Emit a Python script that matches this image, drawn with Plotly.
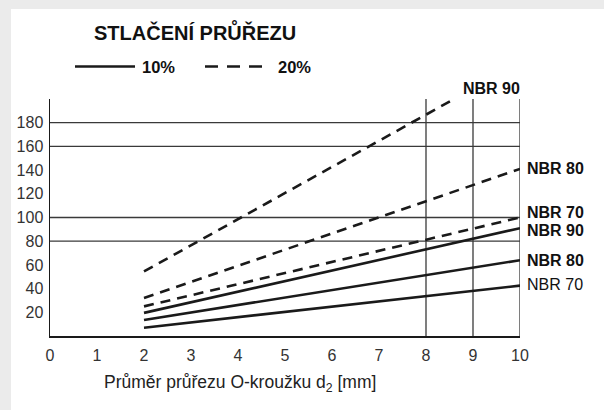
import plotly.graph_objects as go

# Data
x_start_end = [2, 10]
solid_nbr70 = [7, 42.5]
solid_nbr80 = [13.5, 64]
solid_nbr90 = [19.5, 91]
dashed_nbr70 = [25, 100]
dashed_nbr80 = [32, 141]
dashed_nbr90_x = [2, 8.6]
dashed_nbr90 = [54.5, 200]

x_ticks = list(range(0, 11))
y_ticks = [20, 40, 60, 80, 100, 120, 140, 160, 180]
h_grid = [80, 100, 160, 180]
v_grid = [8, 9, 10]

right_labels = ["NBR 70", "<b>NBR 80</b>", "<b>NBR 90</b>", "<b>NBR 70</b>", "<b>NBR 80</b>"]
right_label_y = [43.5, 64, 89, 104, 141]
top_label = "<b>NBR 90</b>"

FONT = "Liberation Sans, Arial, sans-serif"
LINE = "#1a1a1a"
GRID = "#3a3a3a"
DASH = "10px,7px"

# plot area in pixels (for paper-coordinate placement of decorations)
L, R, T, B = 50, 520, 99, 336
PW, PH = R - L, B - T


def px(xpix):
    return (xpix - L) / PW


def py(ypix):
    return (B - ypix) / PH


fig = go.Figure()

for y in [solid_nbr70, solid_nbr80, solid_nbr90]:
    fig.add_trace(go.Scatter(x=x_start_end, y=y, mode="lines",
                             line=dict(color=LINE, width=2.6), showlegend=False,
                             hoverinfo="skip"))
for xs, y in [(x_start_end, dashed_nbr70), (x_start_end, dashed_nbr80), (dashed_nbr90_x, dashed_nbr90)]:
    fig.add_trace(go.Scatter(x=xs, y=y, mode="lines",
                             line=dict(color=LINE, width=2.6, dash=DASH), showlegend=False,
                             hoverinfo="skip"))

shapes = []
# white panel
shapes.append(dict(type="rect", xref="paper", yref="paper",
                   x0=px(11), x1=px(640), y0=py(440), y1=py(9),
                   fillcolor="white", line=dict(width=0), layer="below"))
for gy in h_grid:
    shapes.append(dict(type="line", xref="x", yref="y", x0=0, x1=10, y0=gy, y1=gy,
                       line=dict(color=GRID, width=1.3), layer="below"))
for gx in v_grid:
    shapes.append(dict(type="line", xref="x", yref="y", x0=gx, x1=gx, y0=0, y1=200,
                       line=dict(color=GRID, width=1.3), layer="below"))
# legend keys
shapes.append(dict(type="line", xref="paper", yref="paper", x0=px(75), x1=px(135),
                   y0=py(66.5), y1=py(66.5), line=dict(color=LINE, width=2.6)))
shapes.append(dict(type="line", xref="paper", yref="paper", x0=px(205), x1=px(263),
                   y0=py(66.5), y1=py(66.5), line=dict(color=LINE, width=2.6, dash="13px,9px")))

annotations = []
for txt, yv in zip(right_labels, right_label_y):
    annotations.append(dict(x=10, y=yv, xref="x", yref="y", text=txt, showarrow=False,
                            xanchor="left", yanchor="middle", xshift=5,
                            font=dict(family=FONT, size=16, color="#111")))
annotations.append(dict(x=px(491), y=py(88.5), xref="paper", yref="paper",
                        text=top_label, showarrow=False, xanchor="center", yanchor="middle",
                        font=dict(family=FONT, size=16, color="#111")))
annotations.append(dict(x=px(195), y=py(31.5), xref="paper", yref="paper",
                        text="<b>STLAČENÍ PRŮŘEZU</b>", showarrow=False,
                        xanchor="center", yanchor="middle",
                        font=dict(family=FONT, size=20, color="#111")))
annotations.append(dict(x=px(140), y=py(66.5), xref="paper", yref="paper",
                        text="<b>10%</b>", showarrow=False, xanchor="left", yanchor="middle",
                        font=dict(family=FONT, size=16.5, color="#111")))
annotations.append(dict(x=px(276), y=py(66.5), xref="paper", yref="paper",
                        text="<b>20%</b>", showarrow=False, xanchor="left", yanchor="middle",
                        font=dict(family=FONT, size=16.5, color="#111")))
annotations.append(dict(x=px(240), y=py(383), xref="paper", yref="paper",
                        text="Průměr průřezu O-kroužku d<sub>2</sub> [mm]", showarrow=False,
                        xanchor="center", yanchor="middle",
                        font=dict(family=FONT, size=17.5, color="#222")))

fig.update_layout(
    width=604, height=410,
    margin=dict(l=L, r=604 - R, t=T, b=410 - B, autoexpand=False),
    paper_bgcolor="#ebebeb",
    plot_bgcolor="white",
    font=dict(family=FONT, size=16, color="#333"),
    shapes=shapes,
    annotations=annotations,
    showlegend=False,
)
fig.update_xaxes(range=[0, 10], tickvals=x_ticks, showgrid=False, zeroline=False,
                 showline=True, linecolor=LINE, linewidth=1.5, ticks="",
                 ticklabelstandoff=4, tickfont=dict(size=16, color="#333"), fixedrange=True)
fig.update_yaxes(range=[0, 200], tickvals=y_ticks, showgrid=False, zeroline=False,
                 showline=True, linecolor=LINE, linewidth=1.5, ticks="",
                 ticklabelstandoff=2, tickfont=dict(size=16, color="#333"), fixedrange=True)

fig.write_html("out.html",
               config={"displayModeBar": False, "staticPlot": True},
               post_script="document.body.style.margin='0';document.body.style.background='#ebebeb';")
